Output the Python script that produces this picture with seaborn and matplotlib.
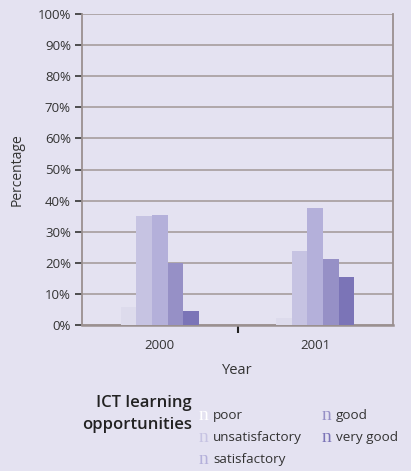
import matplotlib
matplotlib.use("Agg")
import matplotlib.pyplot as plt
import pandas as pd
import seaborn as sns

years = ["2000", "2001"]
grades = ["poor", "unsatisfactory", "satisfactory", "good", "very good"]
pct_2000 = [5.9, 35.0, 35.4, 20.0, 4.5]
pct_2001 = [2.2, 23.8, 37.6, 21.2, 15.4]
yticks = list(range(0, 101, 10))

colors = ["#dddbec", "#c6c3e2", "#b4b0da", "#9690c6", "#7b74b7"]
marker_colors = ["#ffffff", "#c6c3e2", "#b4b0da", "#9690c6", "#7b74b7"]
bg = "#e4e2f1"
grid_c = "#a69d9d"

df = pd.DataFrame({
    "Year": [y for y in years for _ in grades],
    "Grade": grades * len(years),
    "Percentage": pct_2000 + pct_2001,
})

sns.set_style("white")
plt.rcParams["font.family"] = ["Open Sans", "DejaVu Sans"]

fig = plt.figure(figsize=(4.11, 4.71), dpi=100, facecolor=bg)
ax = fig.add_axes([82 / 411, 1 - 325 / 471, 311 / 411, 311 / 471])
ax.set_facecolor(bg)

sns.barplot(data=df, x="Year", y="Percentage", hue="Grade", hue_order=grades,
            palette=colors, width=0.5, gap=0, saturation=1, ax=ax, legend=False,
            linewidth=0, zorder=3)

ax.set_xlim(-0.5, 1.5)
ax.set_ylim(0, 100)
ax.set_yticks(yticks)
ax.set_yticklabels([f"{v}%" for v in yticks], fontsize=9.5, color="#333333")
ax.yaxis.grid(True, color=grid_c, linewidth=1.2, zorder=0)
ax.set_axisbelow(True)
ax.tick_params(axis="y", direction="out", length=5, width=1.2, color="#333333", pad=3, left=True)

ax.set_xticks([0.5])
ax.set_xticklabels([""])
ax.set_xticks([0, 1], minor=True)
ax.set_xticklabels(years, minor=True, fontsize=9.5, color="#333333")
ax.tick_params(axis="x", which="major", direction="out", length=6, width=1.5,
               color="#222222", bottom=True)
ax.tick_params(axis="x", which="minor", length=0, pad=10)

for side in ["left", "right", "bottom"]:
    ax.spines[side].set_color("#9a9090")
    ax.spines[side].set_linewidth(1.3)
ax.spines["bottom"].set_linewidth(1.8)
ax.spines["top"].set_visible(False)

ax.set_xlabel("Year", fontsize=10.5, color="#333333", labelpad=8)
ax.set_ylabel("Percentage", fontsize=10, color="#333333", labelpad=9)

# legend drawn as text
fig.text(192 / 411, 1 - 403 / 471, "ICT learning", ha="right", va="center",
         fontsize=12, color="#222222", fontweight="semibold")
fig.text(192 / 411, 1 - 425 / 471, "opportunities", ha="right", va="center",
         fontsize=12, color="#222222", fontweight="semibold")
slots = [(199, 415), (199, 437), (199, 459), (322, 415), (322, 437)]
for (px, py), name, mc in zip(slots, grades, marker_colors):
    fig.text(px / 411, 1 - py / 471, "n", ha="left", va="center", fontsize=14,
             color=mc, family=["Liberation Serif"])
    fig.text((px + 14) / 411, 1 - py / 471, name, ha="left", va="center",
             fontsize=9.7, color="#333333")

fig.savefig("out.png", dpi=100, facecolor=bg)
